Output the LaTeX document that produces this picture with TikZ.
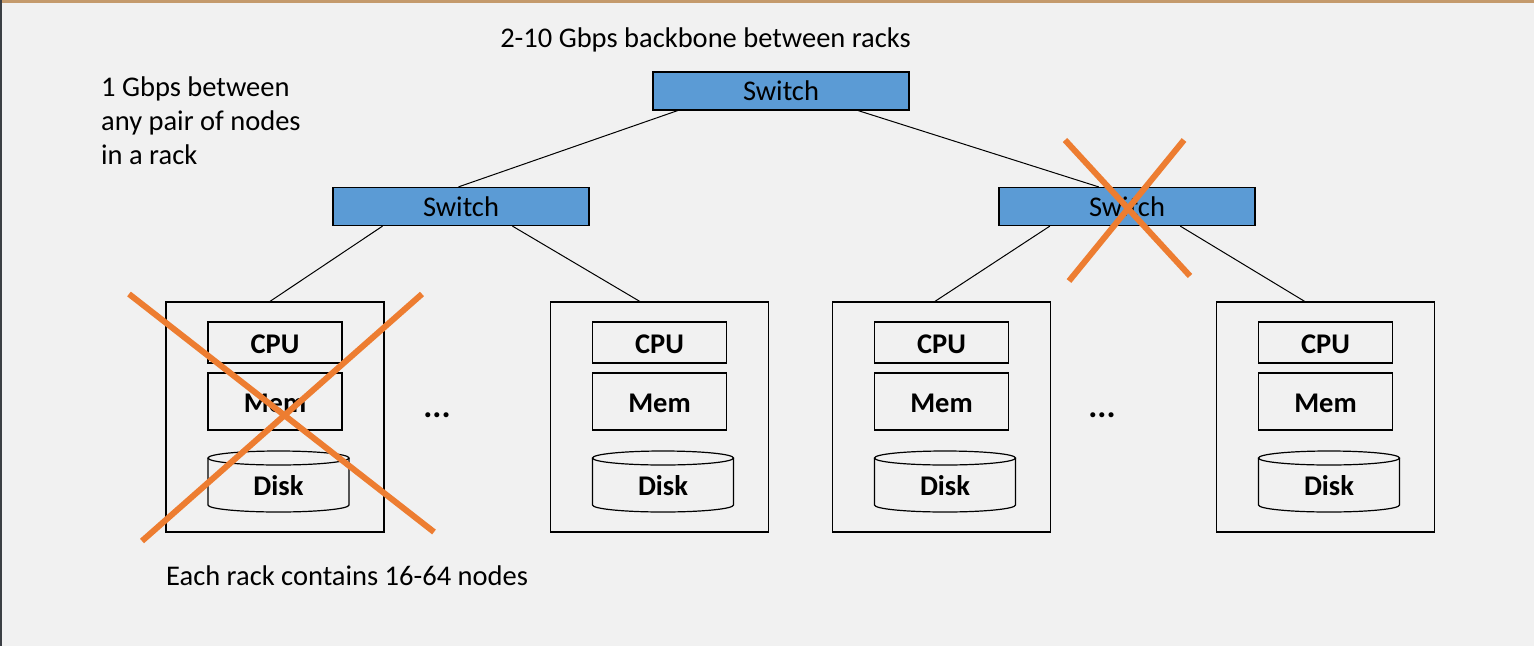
\documentclass[tikz,border=0pt]{standalone}
\usepackage{fontspec}
\setmainfont{Carlito}
\usepackage{tikz}
\usetikzlibrary{calc}
\usepackage{xcolor}
\definecolor{switchblue}{HTML}{5B9BD5}
\definecolor{crossorange}{HTML}{ED7D31}
\definecolor{slidebg}{HTML}{F1F1F1}
\definecolor{slidetop}{HTML}{C49A6C}
\definecolor{slideedge}{HTML}{3B3F44}

\tikzset{
	switchbox/.style={draw=black, fill=switchblue, line width=1.2pt, minimum width=256pt, minimum height=38pt, inner sep=0pt, font=\fontsize{28.5}{34}\selectfont},
	rackbox/.style={draw=black, line width=1.2pt, minimum width=218pt, minimum height=230pt, inner sep=0pt},
	partbox/.style={draw=black, line width=1.2pt, minimum width=134pt, inner sep=0pt, text height=22pt, text depth=0pt, font=\fontsize{28.5}{34}\selectfont\bfseries},
	disklabel/.style={inner sep=0pt, font=\fontsize{28.5}{34}\selectfont\bfseries},
	plaintext/.style={inner sep=0pt, font=\fontsize{28.5}{34}\selectfont},
	link/.style={line width=1pt},
	cross/.style={crossorange, line width=6pt},
}

\begin{document}
\begin{tikzpicture}[x=1pt, y=-1pt]
					\useasboundingbox (0,0) rectangle (1534,646);
					\fill[slidebg] (0,0) rectangle (1534,646);
					\fill[slidetop] (0,0) rectangle (1534,2.5);
					\fill[slideedge] (0,0) rectangle (1.5,646);
					
					\node[plaintext, anchor=base] (backbone) at (705.5,47) {2-10 Gbps backbone between racks};
					\node[plaintext, anchor=north west, align=left] (rackspeed) at (101,77) {1 Gbps between\\any pair of nodes\\in a rack};
					\node[plaintext, anchor=base west] (racksize) at (166,585) {Each rack contains 16-64 nodes};
					
					\node[switchbox] (topsw) at (781,91) {Switch};
					\node[switchbox] (leftsw) at (461,206.5) {Switch};
					\node[switchbox] (rightsw) at (1127,206.5) {Switch};
					
					\node[rackbox] (rack1) at (275,417) {};
					\node[partbox, minimum height=41pt] (cpu1) at (275,342.5) {CPU};
					\node[partbox, minimum height=57pt] (mem1) at (275,401.5) {Mem};
					\draw[line width=1.2pt] (208,458) -- (208,505) arc[start angle=180, end angle=0, x radius=70.5, y radius=7] -- (349,458);
					\draw[line width=1.2pt] (278.5,458) ellipse[x radius=70.5, y radius=7];
					\node[disklabel] (disk1) at (278.5,486) {Disk};
					
					\node[rackbox] (rack2) at (659.5,417) {};
					\node[partbox, minimum height=41pt] (cpu2) at (659.5,342.5) {CPU};
					\node[partbox, minimum height=57pt] (mem2) at (659.5,401.5) {Mem};
					\draw[line width=1.2pt] (592.5,458) -- (592.5,505) arc[start angle=180, end angle=0, x radius=70.5, y radius=7] -- (733.5,458);
					\draw[line width=1.2pt] (663,458) ellipse[x radius=70.5, y radius=7];
					\node[disklabel] (disk2) at (663,486) {Disk};
					
					\node[rackbox] (rack3) at (941.5,417) {};
					\node[partbox, minimum height=41pt] (cpu3) at (941.5,342.5) {CPU};
					\node[partbox, minimum height=57pt] (mem3) at (941.5,401.5) {Mem};
					\draw[line width=1.2pt] (874.5,458) -- (874.5,505) arc[start angle=180, end angle=0, x radius=70.5, y radius=7] -- (1015.5,458);
					\draw[line width=1.2pt] (945,458) ellipse[x radius=70.5, y radius=7];
					\node[disklabel] (disk3) at (945,486) {Disk};
					
					\node[rackbox] (rack4) at (1325.5,417) {};
					\node[partbox, minimum height=41pt] (cpu4) at (1325.5,342.5) {CPU};
					\node[partbox, minimum height=57pt] (mem4) at (1325.5,401.5) {Mem};
					\draw[line width=1.2pt] (1258.5,458) -- (1258.5,505) arc[start angle=180, end angle=0, x radius=70.5, y radius=7] -- (1399.5,458);
					\draw[line width=1.2pt] (1329,458) ellipse[x radius=70.5, y radius=7];
					\node[disklabel] (disk4) at (1329,486) {Disk};
					
					\node[disklabel, anchor=base, font=\fontsize{34}{34}\selectfont\bfseries] (dots1) at (437,417) {...};
					\node[disklabel, anchor=base, font=\fontsize{34}{34}\selectfont\bfseries] (dots2) at (1102,417) {...};
					
					\draw[link] ($(topsw.south west)!0.098!(topsw.south east)$) -- ($(leftsw.north west)!0.49!(leftsw.north east)$);
					\draw[link] ($(topsw.south west)!0.80!(topsw.south east)$) -- ($(rightsw.north west)!0.39!(rightsw.north east)$);
					\draw[link] ($(leftsw.south west)!0.195!(leftsw.south east)$) -- ($(rack1.north west)!0.477!(rack1.north east)$);
					\draw[link] ($(leftsw.south west)!0.70!(leftsw.south east)$) -- ($(rack2.north west)!0.41!(rack2.north east)$);
					\draw[link] ($(rightsw.south west)!0.20!(rightsw.south east)$) -- ($(rack3.north west)!0.47!(rack3.north east)$);
					\draw[link] ($(rightsw.south west)!0.707!(rightsw.south east)$) -- ($(rack4.north west)!0.405!(rack4.north east)$);
					
					\draw[cross] (129,294) -- (434,532);
					\draw[cross] (422,294) -- (142,541);
					\draw[cross] (1065,140) -- (1190,276);
					\draw[cross] (1184,140) -- (1069,281);
					
				\end{tikzpicture}
\end{document}
